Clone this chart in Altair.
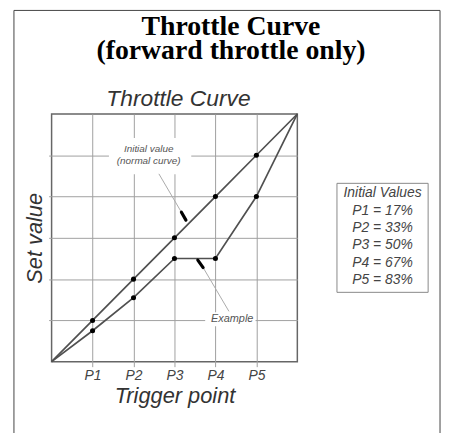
import altair as alt
import pandas as pd

# ---- data ----
trigger = [0, 1, 2, 3, 4, 5, 6]
normal_curve = [0, 1, 2, 3, 4, 5, 6]
example_curve = [0, 0.75, 1.55, 2.5, 2.5, 4.0, 6]
tick_values = [1, 2, 3, 4, 5]
tick_labels = ["P1", "P2", "P3", "P4", "P5"]
initial_pct = [17, 33, 50, 67, 83]
heading = ["Throttle Curve", "(forward throttle only)"]

ann_text = ["Initial value", "(normal curve)", "Example"]
ann_x = [2.37, 2.37, 4.41]
ann_y = [5.16, 4.85, 1.03]

# leader lines (from label to arrow) and arrow heads, data coords
lead_x = [2.62, 4.33]
lead_y = [4.55, 1.22]
lead_x2 = [3.17, 3.70]
lead_y2 = [3.62, 2.28]
arr_x2 = [3.28, 3.57]
arr_y2 = [3.43, 2.46]

# white label backgrounds (gaps in the grid)
box_x = [1.40, 3.75]
box_x2 = [3.41, 4.98]
box_y = [4.54, 0.86]
box_y2 = [5.42, 1.20]

W, H = 248, 250
xs = alt.Scale(domain=[0, 6], nice=False, zero=False)
ys = alt.Scale(domain=[0, 6], nice=False, zero=False)
SANS = "Liberation Sans"

x_axis = alt.Axis(values=tick_values, grid=True, gridColor="#a0a0a0", gridWidth=1,
                  tickColor="#a0a0a0", tickSize=5, domain=False,
                  labelExpr="'P' + datum.value", labelFont=SANS, labelFontStyle="italic",
                  labelFontSize=14, labelColor="#444", labelPadding=2,
                  title="Trigger point", titleFont=SANS, titleFontStyle="italic",
                  titleFontWeight="normal", titleFontSize=22, titleColor="#333",
                  titlePadding=3)
y_axis = alt.Axis(values=tick_values, grid=True, gridColor="#a0a0a0", gridWidth=1,
                  tickColor="#a0a0a0", tickSize=3, domain=False, labels=False,
                  title="Set value", titleFont=SANS, titleFontStyle="italic",
                  titleFontWeight="normal", titleFontSize=22, titleColor="#333",
                  titlePadding=2)

lines_df = pd.DataFrame(
    {"t": trigger * 2, "v": normal_curve + example_curve,
     "s": ["normal"] * 7 + ["example"] * 7}
)
pts_df = lines_df[(lines_df["t"] > 0) & (lines_df["t"] < 6)]

one = pd.DataFrame({"a": [0]})

frame = alt.Chart(one).mark_rect(fill="transparent", stroke="#444", strokeWidth=1).encode(
    x=alt.value(14 - 52), x2=alt.value(444 - 52), y=alt.value(8.5 - 113), y2=alt.value(340)
)

big = alt.Chart(one).mark_text(
    text=heading, font="Liberation Serif", fontWeight="bold", fontSize=28,
    color="black", align="center", baseline="alphabetic", lineHeight=25
).encode(x=alt.value(233 - 52), y=alt.value(33 - 113))

inner_title = alt.Chart(one).mark_text(
    text="Throttle Curve", font=SANS, fontStyle="italic", fontSize=23,
    color="#333", align="center", baseline="alphabetic"
).encode(x=alt.value(180 - 52), y=alt.value(105 - 113))

lines = alt.Chart(lines_df).mark_line(color="#505050", strokeWidth=1.7).encode(
    x=alt.X("t:Q", scale=xs, axis=x_axis),
    y=alt.Y("v:Q", scale=ys, axis=y_axis),
    detail="s:N",
)

boxes_df = pd.DataFrame({"t": box_x, "x2": box_x2, "v": box_y, "y2": box_y2})
boxes = alt.Chart(boxes_df).mark_rect(fill="white").encode(
    x=alt.X("t:Q", scale=xs, axis=x_axis), x2="x2:Q",
    y=alt.Y("v:Q", scale=ys, axis=y_axis), y2="y2:Q",
)

points = alt.Chart(pts_df).mark_point(filled=True, color="black", size=26, opacity=1).encode(
    x=alt.X("t:Q", scale=xs, axis=x_axis), y=alt.Y("v:Q", scale=ys, axis=y_axis)
)

lead_df = pd.DataFrame({"t": lead_x, "v": lead_y, "x2": lead_x2, "y2": lead_y2})
leaders = alt.Chart(lead_df).mark_rule(color="#aaa", strokeWidth=1).encode(
    x=alt.X("t:Q", scale=xs, axis=x_axis), y=alt.Y("v:Q", scale=ys, axis=y_axis),
    x2="x2:Q", y2="y2:Q",
)
arr_df = pd.DataFrame({"t": lead_x2, "v": lead_y2, "x2": arr_x2, "y2": arr_y2})
arrows = alt.Chart(arr_df).mark_rule(color="black", strokeWidth=3.2, strokeCap="round").encode(
    x=alt.X("t:Q", scale=xs, axis=x_axis), y=alt.Y("v:Q", scale=ys, axis=y_axis),
    x2="x2:Q", y2="y2:Q",
)

ann_df = pd.DataFrame({"t": ann_x, "v": ann_y, "txt": ann_text,
                       "fs": [10, 10, 11]})
ann = alt.Chart(ann_df).mark_text(font=SANS, fontStyle="italic", color="#555",
                                  align="center", baseline="middle").encode(
    x=alt.X("t:Q", scale=xs, axis=x_axis), y=alt.Y("v:Q", scale=ys, axis=y_axis),
    text="txt:N", size=alt.Size("fs:Q", scale=None, legend=None),
)

legend_box = alt.Chart(one).mark_rect(fill="white", stroke="#888", strokeWidth=1).encode(
    x=alt.value(340 - 52), x2=alt.value(432 - 52), y=alt.value(183 - 113), y2=alt.value(293 - 113)
)
legend_lines = ["Initial Values"] + [f"{p} = {v}%" for p, v in zip(tick_labels, initial_pct)]
legend_text = alt.Chart(one).mark_text(
    text=legend_lines, font=SANS, fontStyle="italic", fontSize=14, color="#444",
    align="center", baseline="middle", lineHeight=17.5
).encode(x=alt.value(386 - 52), y=alt.value(193 - 113))

chart = alt.layer(
    frame, big, inner_title, lines, boxes, points, leaders, arrows, ann,
    legend_box, legend_text
).properties(
    width=W, height=H,
    autosize=alt.AutoSizeParams(type="none"),
    padding={"left": 44, "top": 105, "right": 146, "bottom": 70},
).configure_view(stroke="#666", strokeWidth=1.5)

chart.save("out.html", embed_options={"renderer": "svg", "actions": False})
